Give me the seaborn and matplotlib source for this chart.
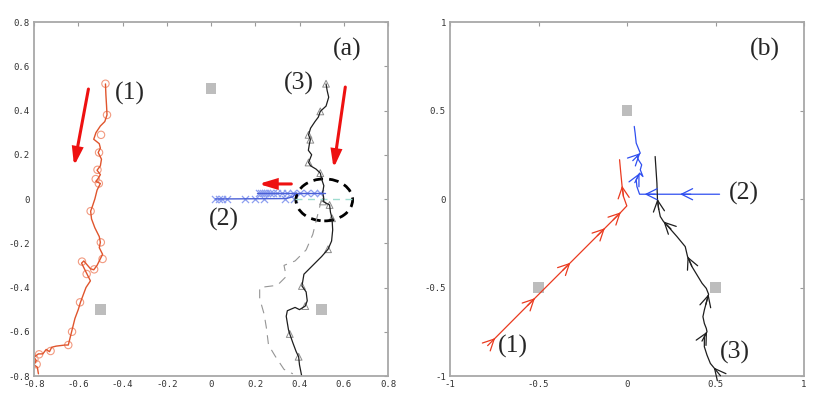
import numpy as np
import pandas as pd
import matplotlib
matplotlib.use("Agg")
import matplotlib.pyplot as plt
from matplotlib.patches import Ellipse
import seaborn as sns

# ---------------- data: panel (a) ----------------
obstacles_a = [(-0.5, -0.5), (0.0, 0.5), (0.5, -0.5)]

path1_a = [(-0.477, 0.52), (-0.475, 0.47), (-0.472, 0.42), (-0.47, 0.38), (-0.48, 0.35),
           (-0.50, 0.33), (-0.52, 0.30), (-0.53, 0.27), (-0.505, 0.25), (-0.50, 0.23),
           (-0.51, 0.21), (-0.495, 0.18), (-0.50, 0.15), (-0.515, 0.13), (-0.50, 0.11),
           (-0.512, 0.09), (-0.52, 0.08), (-0.50, 0.07), (-0.515, 0.04), (-0.525, 0.0),
           (-0.535, -0.03), (-0.544, -0.055), (-0.54, -0.09), (-0.525, -0.13), (-0.505, -0.17),
           (-0.50, -0.196), (-0.505, -0.22), (-0.49, -0.25), (-0.50, -0.27), (-0.515, -0.30),
           (-0.53, -0.32), (-0.545, -0.315), (-0.575, -0.28), (-0.585, -0.29), (-0.575, -0.31),
           (-0.56, -0.34), (-0.545, -0.37), (-0.565, -0.40), (-0.58, -0.44), (-0.59, -0.467),
           (-0.60, -0.50), (-0.615, -0.54), (-0.625, -0.58), (-0.63, -0.60), (-0.64, -0.64),
           (-0.645, -0.66), (-0.66, -0.66), (-0.70, -0.665), (-0.72, -0.67), (-0.73, -0.69),
           (-0.745, -0.68), (-0.76, -0.70), (-0.78, -0.70), (-0.80, -0.715), (-0.79, -0.73),
           (-0.80, -0.75), (-0.785, -0.76), (-0.78, -0.79)]
circles1_a = [(-0.477, 0.521), (-0.47, 0.38), (-0.497, 0.29), (-0.506, 0.21), (-0.513, 0.132),
              (-0.521, 0.09), (-0.507, 0.07), (-0.544, -0.055), (-0.498, -0.196), (-0.49, -0.271),
              (-0.528, -0.318), (-0.583, -0.283), (-0.562, -0.339), (-0.592, -0.467),
              (-0.628, -0.60), (-0.645, -0.66), (-0.725, -0.687), (-0.777, -0.702),
              (-0.798, -0.723), (-0.788, -0.747)]

path2u_a = [(0.515, 0.028), (0.21, 0.028)]
path2l_a = [(0.385, 0.028), (0.37, 0.01), (0.34, 0.002), (0.02, 0.0)]
cross2u_x = [0.215, 0.225, 0.235, 0.245, 0.253, 0.265, 0.28, 0.298, 0.32, 0.343, 0.37,
             0.404, 0.434, 0.464, 0.494]
cross2u_y = 0.028
cross2l_x = [0.019, 0.034, 0.049, 0.072, 0.155, 0.2, 0.238, 0.336, 0.373]
cross2l_y = 0.0
ref2_a = [(0.38, 0.0), (0.66, 0.0)]

path3_a = [(0.52, 0.52), (0.525, 0.49), (0.532, 0.46), (0.52, 0.42), (0.494, 0.396),
           (0.485, 0.37), (0.47, 0.35), (0.45, 0.32), (0.441, 0.29), (0.449, 0.268),
           (0.445, 0.25), (0.44, 0.22), (0.455, 0.20), (0.441, 0.165), (0.45, 0.15),
           (0.475, 0.135), (0.494, 0.117), (0.50, 0.09), (0.51, 0.06), (0.505, 0.03),
           (0.51, 0.0), (0.506, -0.011), (0.536, -0.027), (0.54, -0.06), (0.547, -0.087),
           (0.55, -0.14), (0.545, -0.19), (0.529, -0.227), (0.50, -0.26), (0.47, -0.29),
           (0.44, -0.32), (0.42, -0.34), (0.415, -0.37), (0.411, -0.393), (0.43, -0.42),
           (0.435, -0.46), (0.426, -0.484), (0.40, -0.50), (0.38, -0.49), (0.345, -0.505),
           (0.34, -0.53), (0.345, -0.56), (0.35, -0.59), (0.356, -0.61), (0.37, -0.65),
           (0.385, -0.69), (0.396, -0.713), (0.40, -0.75), (0.41, -0.80)]
tri3_a = [(0.52, 0.521), (0.494, 0.396), (0.441, 0.29), (0.449, 0.268), (0.441, 0.165),
          (0.494, 0.117), (0.506, -0.011), (0.536, -0.027), (0.547, -0.087), (0.529, -0.227),
          (0.411, -0.393), (0.426, -0.484), (0.356, -0.61), (0.396, -0.713)]
dash3_a = [(0.50, 0.0), (0.48, -0.08), (0.46, -0.16), (0.43, -0.23), (0.38, -0.28),
           (0.33, -0.30), (0.34, -0.35), (0.30, -0.39), (0.22, -0.40), (0.22, -0.45),
           (0.24, -0.52), (0.25, -0.58), (0.26, -0.66), (0.29, -0.71), (0.33, -0.77),
           (0.37, -0.79)]

dir_arrows_a = [((-0.554, 0.497), (-0.619, 0.149)),
                ((0.607, 0.506), (0.554, 0.139)),
                ((0.363, 0.068), (0.215, 0.068))]
labels_a = [("(a)", 0.551, 0.675), ("(1)", -0.433, 0.479), ("(3)", 0.331, 0.524),
            ("(2)", -0.008, -0.094)]
ticks_a = [-0.8, -0.6, -0.4, -0.2, 0, 0.2, 0.4, 0.6, 0.8]
ticklabels_a = ["-0.8", "-0.6", "-0.4", "-0.2", "0", "0.2", "0.4", "0.6", "0.8"]

# ---------------- data: panel (b) ----------------
obstacles_b = [(0.0, 0.5), (-0.5, -0.5), (0.5, -0.5)]
path1_b = [(-0.755, -0.796), (-0.745, -0.786), (-0.52, -0.56), (-0.32, -0.36), (-0.125, -0.165),
           (-0.035, -0.075), (-0.001, -0.039), (-0.02, 0.014), (-0.028, 0.075), (-0.035, 0.146),
           (-0.042, 0.222)]
heads1_b = [1, 2, 3, 4, 5, 8]
path2_b = [(0.523, 0.027), (0.30, 0.027), (0.10, 0.027), (0.071, 0.027), (0.056, 0.070),
           (0.052, 0.108), (0.071, 0.146), (0.09, 0.127), (0.075, 0.165), (0.083, 0.193),
           (0.065, 0.221), (0.056, 0.24), (0.075, 0.259), (0.052, 0.316), (0.046, 0.372),
           (0.041, 0.41)]
heads2_b = [1, 2, 6, 12]
path3_b = [(0.499, -0.963), (0.49, -0.952), (0.471, -0.929), (0.452, -0.882), (0.437, -0.835),
           (0.437, -0.778), (0.452, -0.75), (0.448, -0.731), (0.437, -0.703), (0.429, -0.665),
           (0.437, -0.627), (0.452, -0.571), (0.461, -0.538), (0.448, -0.505), (0.424, -0.476),
           (0.367, -0.382), (0.342, -0.325), (0.329, -0.269), (0.282, -0.212), (0.216, -0.137),
           (0.206, -0.127), (0.188, -0.099), (0.178, -0.05), (0.172, 0.0), (0.169, 0.09),
           (0.159, 0.24)]
heads3_b = [1, 6, 12, 16, 20, 23]
labels_b = [("(b)", 0.697, 0.844), ("(2)", 0.574, 0.029), ("(1)", -0.727, -0.834),
            ("(3)", 0.523, -0.868)]
ticks_b = [-1, -0.5, 0, 0.5, 1]
ticklabels_b = ["-1", "-0.5", "0", "0.5", "1"]

# ---------------- style ----------------
sns.set_style("white")
plt.rcParams["font.family"] = ["DejaVu Sans"]
RED_A = "#e0552d"
RED_A_MK = "#f29a80"
BLUE_A = "#4a5fd6"
BLUE_A_MK = "#8ea0f0"
RED_B = "#ea3a1f"
BLUE_B = "#2f4ff0"
DARK = "#1e1e1e"
SQUARE = "#bdbdbd"

fig = plt.figure(figsize=(8.3, 4.03), dpi=100)
ax1 = fig.add_axes([34 / 830, 27 / 403, 354 / 830, 354 / 403])
ax2 = fig.add_axes([450 / 830, 27 / 403, 354 / 830, 354 / 403])


def df(pts):
    return pd.DataFrame(pts, columns=["x", "y"])


def line(ax, pts, color, lw=1.0, ls="-"):
    d = df(pts)
    sns.lineplot(data=d, x="x", y="y", sort=False, estimator=None, ax=ax,
                 color=color, lw=lw, linestyle=ls)


def style_axes(ax, lim, ticks, labels):
    ax.set_xlim(lim)
    ax.set_ylim(lim)
    ax.set_xticks(ticks)
    ax.set_yticks(ticks)
    ax.set_xticklabels(labels)
    ax.set_yticklabels(labels)
    ax.set_xlabel("")
    ax.set_ylabel("")
    ax.tick_params(direction="in", length=3, width=0.8, color="#9a9a9a",
                   top=True, right=True, labelsize=6.5, labelcolor="#333333", pad=3)
    for lab in ax.get_xticklabels() + ax.get_yticklabels():
        lab.set_family("DejaVu Sans Mono")
    for s in ax.spines.values():
        s.set_color("#a8a8a8")
        s.set_linewidth(1.3)
        s.set_visible(True)


# ---------- panel (a) ----------
sq = df(obstacles_a)
sns.scatterplot(data=sq, x="x", y="y", marker="s", s=60, color=SQUARE, edgecolor="none",
                ax=ax1, zorder=1)
line(ax1, dash3_a, "#959595", lw=0.8, ls=(0, (8, 6)))
line(ax1, ref2_a, "#9fdcd0", lw=1.0, ls=(0, (5, 4)))
line(ax1, path1_a, RED_A, lw=1.0)
c1 = df(circles1_a)
sns.scatterplot(data=c1, x="x", y="y", marker="o", s=28, facecolor="none",
                edgecolor=RED_A_MK, linewidth=0.8, ax=ax1)
line(ax1, path3_a, DARK, lw=0.9)
t3 = df(tri3_a)
sns.scatterplot(data=t3, x="x", y="y", marker="^", s=24, facecolor="none",
                edgecolor="#8c8c8c", linewidth=0.7, ax=ax1)
line(ax1, path2u_a, BLUE_A, lw=1.0)
line(ax1, path2l_a, BLUE_A, lw=1.0)
sns.scatterplot(x=cross2u_x, y=[cross2u_y] * len(cross2u_x), marker="x", s=26,
                color=BLUE_A_MK, linewidth=0.9, ax=ax1)
sns.scatterplot(x=cross2l_x, y=[cross2l_y] * len(cross2l_x), marker="x", s=26,
                color=BLUE_A_MK, linewidth=0.9, ax=ax1)

for (p0, p1) in dir_arrows_a:
    ax1.annotate("", xy=p1, xytext=p0,
                 arrowprops=dict(arrowstyle="-|>,head_length=0.6,head_width=0.18",
                                 color="#ee1111", lw=2.2, mutation_scale=16,
                                 shrinkA=0, shrinkB=0, joinstyle="miter"))
ax1.add_patch(Ellipse((0.512, -0.004), 0.256, 0.19, fill=False, ec="black",
                      lw=2.0, ls=(0, (3.5, 2.2))))
for t, x, y in labels_a:
    ax1.text(x, y, t, fontsize=18.5, family="Liberation Serif", ha="left", va="center")
style_axes(ax1, (-0.8, 0.8), ticks_a, ticklabels_a)


# ---------- panel (b) ----------
def heads(ax, pts, idx, color):
    for i in idx:
        x1, y1 = pts[i]
        x0, y0 = pts[i - 1]
        d = np.hypot(x1 - x0, y1 - y0)
        ux, uy = (x1 - x0) / d, (y1 - y0) / d
        ax.annotate("", xy=(x1, y1), xytext=(x1 - 0.06 * ux, y1 - 0.06 * uy),
                    arrowprops=dict(arrowstyle="->,head_length=0.8,head_width=0.4",
                                    color=color, lw=0.9, shrinkA=0, shrinkB=0,
                                    mutation_scale=10))


sq = df(obstacles_b)
sns.scatterplot(data=sq, x="x", y="y", marker="s", s=60, color=SQUARE, edgecolor="none",
                ax=ax2, zorder=1)
line(ax2, path1_b, RED_B, lw=0.9)
heads(ax2, path1_b, heads1_b, RED_B)
line(ax2, path2_b, BLUE_B, lw=0.9)
heads(ax2, path2_b, heads2_b, BLUE_B)
line(ax2, path3_b, DARK, lw=0.9)
heads(ax2, path3_b, heads3_b, DARK)
for t, x, y in labels_b:
    ax2.text(x, y, t, fontsize=18.5, family="Liberation Serif", ha="left", va="center")
style_axes(ax2, (-1, 1), ticks_b, ticklabels_b)

fig.savefig("out.png", dpi=100)
